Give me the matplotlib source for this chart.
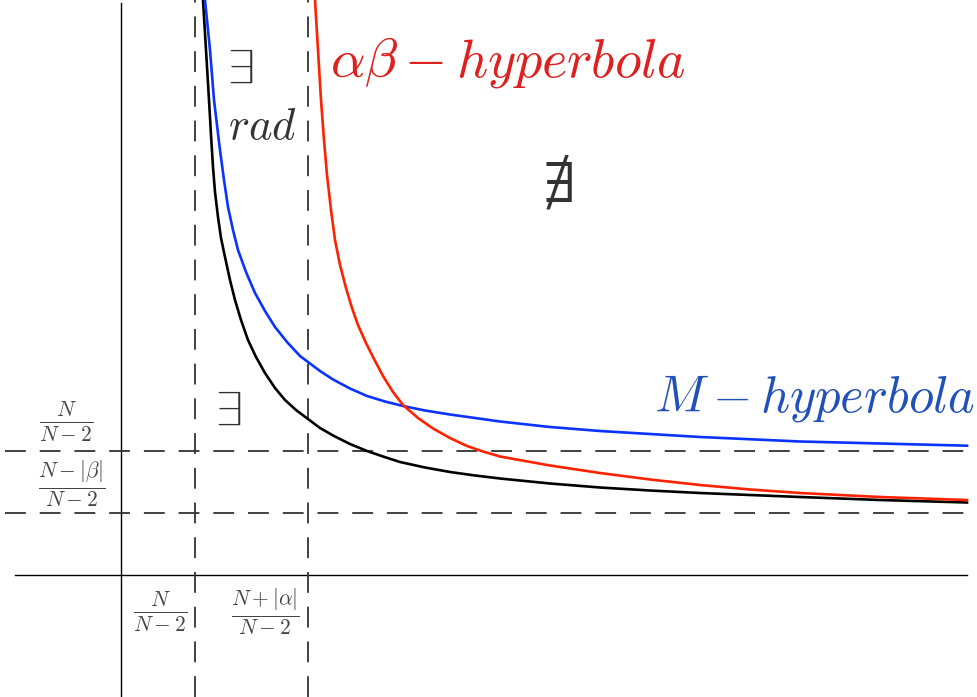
import matplotlib
matplotlib.use("Agg")
import matplotlib.pyplot as plt

plt.rcParams['mathtext.fontset'] = 'cm'
plt.rcParams['lines.scale_dashes'] = False

# curve points (x, y in sketch units)
black_x = [0.82, 0.85, 0.88, 0.90, 0.92, 0.94, 0.97, 1.00, 1.04, 1.09, 1.14, 1.20, 1.27, 1.35, 1.44, 1.54,
           1.64, 1.75, 1.87, 1.99, 2.13, 2.29, 2.46, 2.62, 2.79, 3.04, 3.29, 3.54, 3.79, 4.29, 4.79, 5.29,
           5.79, 6.79, 7.59, 8.46]
black_y = [5.75, 5.25, 4.75, 4.40, 4.08, 3.83, 3.58, 3.37, 3.18, 2.95, 2.75, 2.55, 2.35, 2.18, 2.02, 1.87,
           1.75, 1.65, 1.56, 1.47, 1.39, 1.31, 1.24, 1.185, 1.13, 1.075, 1.03, 0.995, 0.965, 0.915, 0.875, 0.845,
           0.82, 0.78, 0.75, 0.725]

blue_x = [0.84, 0.89, 0.93, 0.96, 0.99, 1.03, 1.07, 1.12, 1.17, 1.25, 1.34, 1.44, 1.54, 1.66, 1.79, 1.87,
          1.99, 2.12, 2.29, 2.46, 2.64, 2.82, 3.04, 3.29, 3.54, 3.79, 4.29, 4.79, 5.29, 5.79, 6.79, 7.59, 8.46]
blue_y = [5.75, 5.25, 4.75, 4.50, 4.25, 3.95, 3.68, 3.45, 3.25, 3.03, 2.82, 2.64, 2.48, 2.33, 2.19, 2.13,
          2.04, 1.955, 1.865, 1.79, 1.735, 1.69, 1.645, 1.605, 1.57, 1.535, 1.48, 1.44, 1.41, 1.38, 1.335, 1.315, 1.293]

red_x = [1.94, 1.97, 2.00, 2.03, 2.06, 2.10, 2.14, 2.19, 2.25, 2.31, 2.37, 2.45, 2.53, 2.62, 2.72, 2.82,
         2.97, 3.12, 3.29, 3.46, 3.62, 3.79, 4.29, 4.79, 5.29, 5.79, 6.29, 6.79, 7.59, 8.46]
red_y = [5.75, 5.25, 4.75, 4.35, 4.00, 3.65, 3.35, 3.10, 2.87, 2.67, 2.50, 2.32, 2.16, 1.99, 1.83, 1.70,
         1.57, 1.465, 1.37, 1.29, 1.235, 1.185, 1.095, 1.02, 0.955, 0.90, 0.855, 0.82, 0.78, 0.75]

# asymptotes
v_asym = [0.74, 1.87]
h_asym = [1.24, 0.62]

x_labels = [r'$\frac{N}{N-2}$', r'$\frac{N+|\alpha|}{N-2}$']
y_labels = [r'$\frac{N}{N-2}$', r'$\frac{N-|\beta|}{N-2}$']


def main():
    fig = plt.figure(figsize=(9.78, 6.97), dpi=100)
    ax = fig.add_axes([0, 0, 1, 1])
    ax.set_xlim(-1.21, 8.57)
    ax.set_ylim(-1.22, 5.75)
    ax.axis('off')

    # coordinate axes
    ax.plot([-1.06, 8.46], [0, 0], color='black', lw=1.0)
    ax.plot([0, 0], [-1.22, 5.72], color='black', lw=1.0)

    # dashed asymptotes
    for xv in v_asym:
        ax.plot([xv, xv], [-1.22, 5.75], color='#333333', lw=1.3, dashes=(15, 10))
    for yv in h_asym:
        ax.plot([-1.16, 8.46], [yv, yv], color='#333333', lw=1.3, dashes=(15, 10))

    ax.plot(black_x, black_y, color='black', lw=1.9, solid_joinstyle='round')
    ax.plot(blue_x, blue_y, color='#0a33ff', lw=1.9, solid_joinstyle='round')
    ax.plot(red_x, red_y, color='#ff2200', lw=1.9, solid_joinstyle='round')

    # labels
    ax.text(2.09, 5.13, r'$\alpha\beta - hyperbola$', color='#dd2020', fontsize=39,
            ha='left', va='center')
    ax.text(8.54, 1.77, r'$M - hyperbola$', color='#2050b8', fontsize=36.5,
            ha='right', va='center')
    ax.text(4.36, 3.90, r'$\nexists$', color='#333333', fontsize=44, ha='center', va='center')
    ax.text(1.19, 5.05, r'$\exists$', color='#333333', fontsize=35, ha='center', va='center')
    ax.text(1.41, 4.48, r'$rad$', color='#333333', fontsize=32, ha='center', va='center')
    ax.text(1.07, 1.63, r'$\exists$', color='#333333', fontsize=35, ha='center', va='center')

    for xpos, lab in zip([0.39, 1.44], x_labels):
        ax.text(xpos, -0.37, lab, color='#444444', fontsize=22, ha='center', va='center')
    for (xpos, ypos), lab in zip([(-0.55, 1.53), (-0.49, 0.91)], y_labels):
        ax.text(xpos, ypos, lab, color='#444444', fontsize=22, ha='center', va='center')

    fig.savefig('out.png', dpi=100)


if __name__ == "__main__":
    main()
